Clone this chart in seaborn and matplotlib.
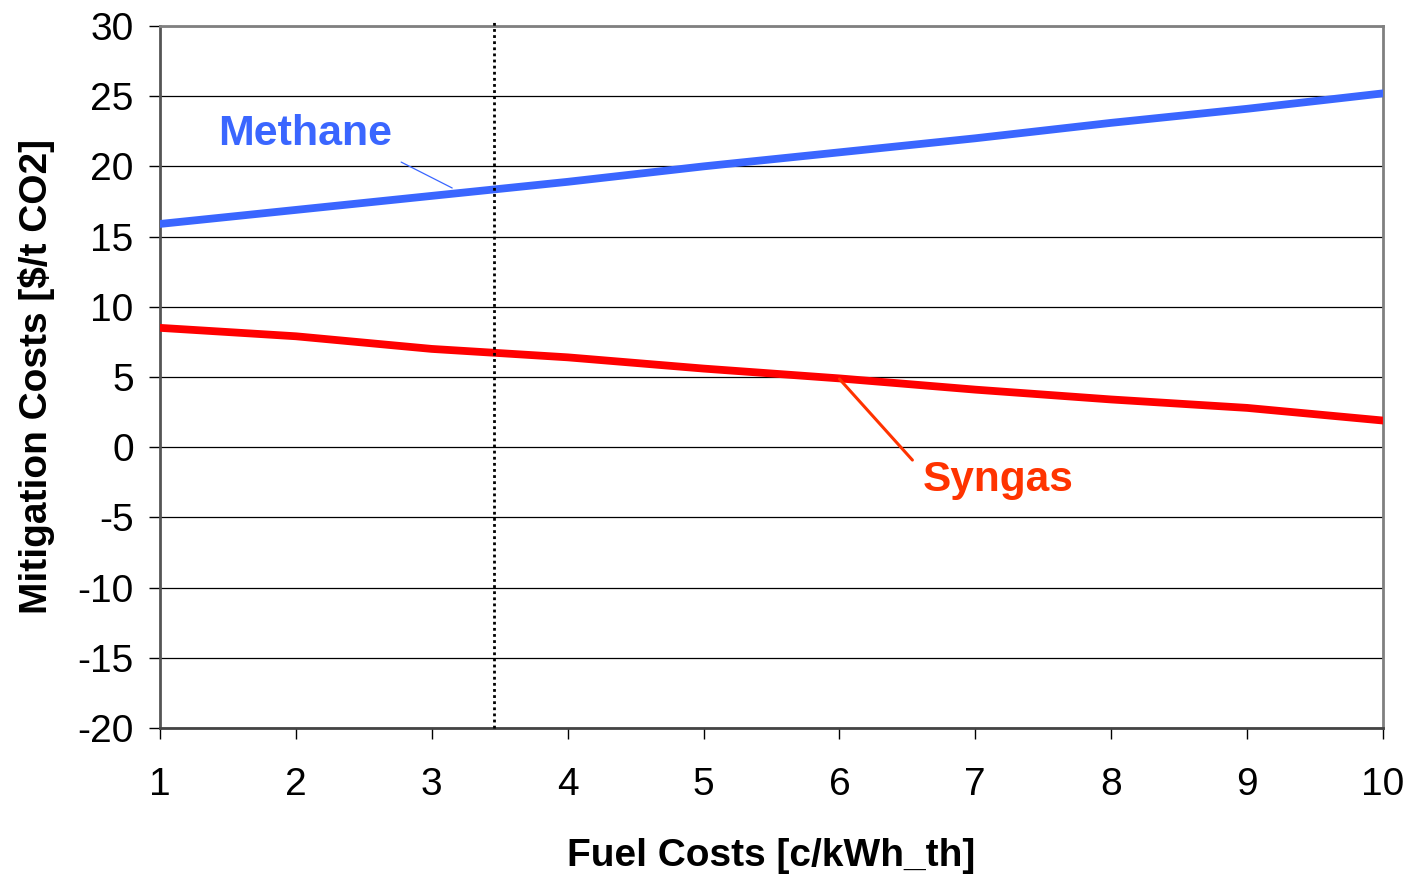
import matplotlib
matplotlib.use("Agg")
import matplotlib.pyplot as plt
import seaborn as sns
import pandas as pd

fuel_costs = [1, 2, 3, 4, 5, 6, 7, 8, 9, 10]
methane = [15.9, 16.9, 17.9, 18.9, 20.0, 21.0, 22.0, 23.1, 24.1, 25.2]
syngas = [8.5, 7.9, 7.0, 6.4, 5.6, 4.9, 4.1, 3.4, 2.8, 1.9]
y_ticks = [-20, -15, -10, -5, 0, 5, 10, 15, 20, 25, 30]
x_ticks = [1, 2, 3, 4, 5, 6, 7, 8, 9, 10]
ref_x = 3.46

sns.set_style("white")
plt.rcParams['font.family'] = ['Liberation Sans', 'DejaVu Sans']
plt.rcParams['axes.unicode_minus'] = False
plt.rcParams['text.color'] = 'black'
plt.rcParams['axes.labelcolor'] = 'black'
plt.rcParams['xtick.color'] = 'black'
plt.rcParams['ytick.color'] = 'black'

df = pd.DataFrame({
    "x": fuel_costs * 2,
    "y": methane + syngas,
    "series": ["Methane"] * len(fuel_costs) + ["Syngas"] * len(fuel_costs),
})

fig = plt.figure(figsize=(14.09, 8.74), dpi=100)
ax = fig.add_axes([0.1136, 0.167, 0.8679, 0.8033])

for yv in y_ticks:
    ax.axhline(yv, color="black", lw=0.9, zorder=1)

sns.lineplot(data=df, x="x", y="y", hue="series",
             palette={"Methane": "#3A66FF", "Syngas": "#FF0000"},
             linewidth=5.6, legend=False, ax=ax, zorder=3)

ax.plot([ref_x, ref_x], [-20, 30.3], color="black", lw=2.0, ls=(0, (1, 1.2)),
        clip_on=False, zorder=4)

ax.set_xlim(1, 10)
ax.set_ylim(-20, 30)
ax.set_xticks(x_ticks)
ax.set_yticks(y_ticks)
ax.tick_params(axis="both", labelsize=28, length=8, width=1, direction="out",
               bottom=True, left=True)
ax.tick_params(axis="x", pad=20)
ax.tick_params(axis="y", pad=11)

for s in ["top", "right"]:
    ax.spines[s].set_color("#808080")
    ax.spines[s].set_linewidth(2)
ax.spines["left"].set_color("#555555")
ax.spines["left"].set_linewidth(2)
ax.spines["bottom"].set_color("#444444")
ax.spines["bottom"].set_linewidth(2)

ax.set_xlabel("Fuel Costs [c/kWh_th]", fontsize=28, fontweight="bold", labelpad=25)
ax.set_ylabel("Mitigation Costs [$/t CO2]", fontsize=28, fontweight="bold", labelpad=16)

ax.annotate("Methane", xy=(3.15, 18.46), xytext=(2.07, 22.3),
            fontsize=31, fontweight="bold", color="#3A66FF",
            ha="center", va="center",
            arrowprops=dict(arrowstyle="-", color="#3A66FF", lw=0.9,
                            shrinkA=0, shrinkB=0, relpos=(1.05, -0.2)))
ax.annotate("Syngas", xy=(6.0, 4.86), xytext=(7.17, -2.34),
            fontsize=30.5, fontweight="bold", color="#FF3300",
            ha="center", va="center",
            arrowprops=dict(arrowstyle="-", color="#FF3300", lw=2.2,
                            shrinkA=0, shrinkB=0, relpos=(-0.07, 1.0)))

fig.savefig("out.png", dpi=100)
